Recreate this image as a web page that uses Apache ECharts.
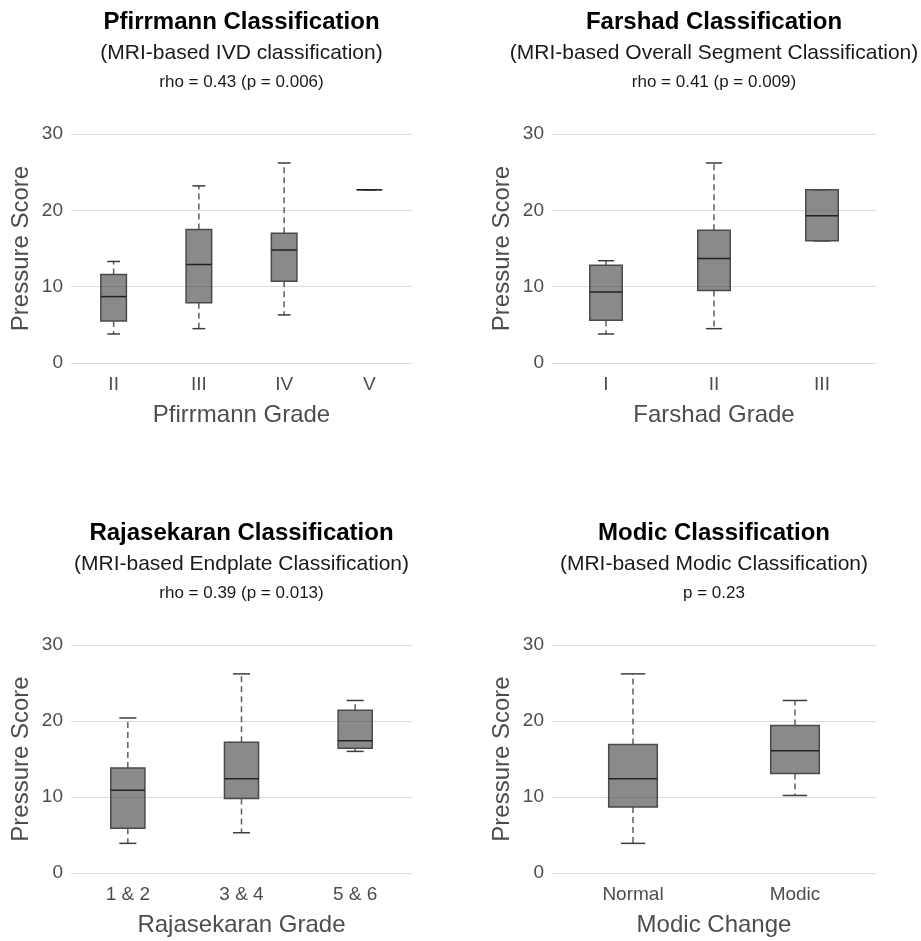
<!DOCTYPE html>
<html>
<head>
<meta charset="utf-8">
<title>Pressure Score by MRI classification</title>
<script src="https://cdn.jsdelivr.net/npm/echarts@6/dist/echarts.min.js"></script>
<style>
html, body { margin: 0; padding: 0; background: #fff; }
#chart { width: 921px; height: 941px; }
</style>
</head>
<body>
<div id="chart"></div>
<script>
// box summaries: [min, q1, median, q3, max]
var pfirrmannGrades = ['II', 'III', 'IV', 'V'];
var pfirrmannStats = [
    [3.8, 5.5, 8.7, 11.6, 13.3],
    [4.5, 7.9, 12.9, 17.5, 23.2],
    [6.3, 10.7, 14.8, 17.0, 26.2],
    [22.7, 22.7, 22.7, 22.7, 22.7]
];

var farshadGrades = ['I', 'II', 'III'];
var farshadStats = [
    [3.8, 5.6, 9.3, 12.8, 13.4],
    [4.5, 9.5, 13.7, 17.4, 26.2],
    [16.0, 16.0, 19.3, 22.7, 22.7]
];

var rajasekaranGrades = ['1 & 2', '3 & 4', '5 & 6'];
var rajasekaranStats = [
    [3.9, 5.9, 10.9, 13.8, 20.4],
    [5.3, 9.8, 12.4, 17.2, 26.2],
    [16.0, 16.4, 17.4, 21.4, 22.7]
];

var modicGroups = ['Normal', 'Modic'];
var modicStats = [
    [3.9, 8.7, 12.4, 16.9, 26.2],
    [10.2, 13.1, 16.1, 19.4, 22.7]
];

var yMin = 0, yMax = 30, yStep = 10;

var panels = [
    {title: 'Pfirrmann Classification', sub: '(MRI-based IVD classification)', stat: 'rho = 0.43 (p = 0.006)',
     xName: 'Pfirrmann Grade', cats: pfirrmannGrades, stats: pfirrmannStats},
    {title: 'Farshad Classification', sub: '(MRI-based Overall Segment Classification)', stat: 'rho = 0.41 (p = 0.009)',
     xName: 'Farshad Grade', cats: farshadGrades, stats: farshadStats},
    {title: 'Rajasekaran Classification', sub: '(MRI-based Endplate Classification)', stat: 'rho = 0.39 (p = 0.013)',
     xName: 'Rajasekaran Grade', cats: rajasekaranGrades, stats: rajasekaranStats},
    {title: 'Modic Classification', sub: '(MRI-based Modic Classification)', stat: 'p = 0.23',
     xName: 'Modic Change', cats: modicGroups, stats: modicStats}
];

// grid boxes in px
var grids = [
    {left: 71, top: 134, width: 341, height: 229},
    {left: 552, top: 134, width: 324, height: 229},
    {left: 71, top: 645, width: 341, height: 228},
    {left: 552, top: 645, width: 324, height: 228}
];

var grey = '#4d4d4d';

function renderBox(params, api) {
    var x = api.value(0);
    var lo = api.coord([x, api.value(1)]);
    var q1 = api.coord([x, api.value(2)]);
    var med = api.coord([x, api.value(3)]);
    var q3 = api.coord([x, api.value(4)]);
    var hi = api.coord([x, api.value(5)]);
    var band = api.size([1, 0])[0];
    var half = band * 0.15;
    var cap = half / 2;
    var cx = med[0];
    var dashed = {stroke: '#5e5e5e', lineWidth: 1.5, lineDash: [6, 4]};
    var solid = {stroke: '#3c3c3c', lineWidth: 1.5};
    return {
        type: 'group',
        children: [
            {type: 'line', shape: {x1: cx, y1: q3[1], x2: cx, y2: hi[1]}, style: dashed},
            {type: 'line', shape: {x1: cx, y1: q1[1], x2: cx, y2: lo[1]}, style: dashed},
            {type: 'line', shape: {x1: cx - cap, y1: hi[1], x2: cx + cap, y2: hi[1]}, style: solid},
            {type: 'line', shape: {x1: cx - cap, y1: lo[1], x2: cx + cap, y2: lo[1]}, style: solid},
            {type: 'rect', shape: {x: cx - half, y: q3[1], width: half * 2, height: q1[1] - q3[1]},
             style: {fill: 'rgba(60,60,60,0.6)', stroke: '#4a4a4a', lineWidth: 1.5}},
            {type: 'line', shape: {x1: cx - half, y1: med[1], x2: cx + half, y2: med[1]},
             style: {stroke: '#222', lineWidth: 1.5}}
        ]
    };
}

var titles = [], xAxes = [], yAxes = [], series = [];

panels.forEach(function (p, i) {
    var g = grids[i];
    var cx = g.left + g.width / 2;
    titles.push(
        {text: p.title, left: cx, top: g.top - 112, textAlign: 'center', textVerticalAlign: 'middle', padding: 0,
         textStyle: {fontSize: 24, fontWeight: 'bold', color: '#000'}},
        {text: p.sub, left: cx, top: g.top - 81, textAlign: 'center', textVerticalAlign: 'middle', padding: 0,
         textStyle: {fontSize: 21, fontWeight: 'normal', color: '#1a1a1a'}},
        {text: p.stat, left: cx, top: g.top - 52, textAlign: 'center', textVerticalAlign: 'middle', padding: 0,
         textStyle: {fontSize: 17, fontWeight: 'normal', color: '#1a1a1a'}}
    );
    xAxes.push({
        gridIndex: i,
        type: 'category',
        data: p.cats,
        name: p.xName,
        nameLocation: 'middle',
        nameGap: 40,
        nameTextStyle: {fontSize: 24, color: grey},
        axisLine: {show: false},
        axisTick: {show: false},
        axisLabel: {fontSize: 19, color: grey, margin: 12},
        splitLine: {show: false}
    });
    yAxes.push({
        gridIndex: i,
        type: 'value',
        min: yMin,
        max: yMax,
        interval: yStep,
        name: 'Pressure Score',
        nameLocation: 'middle',
        nameGap: 38,
        nameTextStyle: {fontSize: 24, color: grey},
        axisLine: {show: false},
        axisTick: {show: false},
        axisLabel: {fontSize: 19, color: grey, margin: 8},
        splitLine: {lineStyle: {color: '#dcdcdc', width: 1}}
    });
    series.push({
        type: 'custom',
        xAxisIndex: i,
        yAxisIndex: i,
        renderItem: renderBox,
        encode: {x: 0, y: [1, 2, 3, 4, 5]},
        data: p.stats.map(function (s, k) { return [k].concat(s); })
    });
});

var chart = echarts.init(document.getElementById('chart'));
chart.setOption({
    animation: false,
    backgroundColor: '#fff',
    textStyle: {fontFamily: 'Liberation Sans, Arial, sans-serif'},
    title: titles,
    grid: grids,
    xAxis: xAxes,
    yAxis: yAxes,
    series: series
});
</script>
</body>
</html>
